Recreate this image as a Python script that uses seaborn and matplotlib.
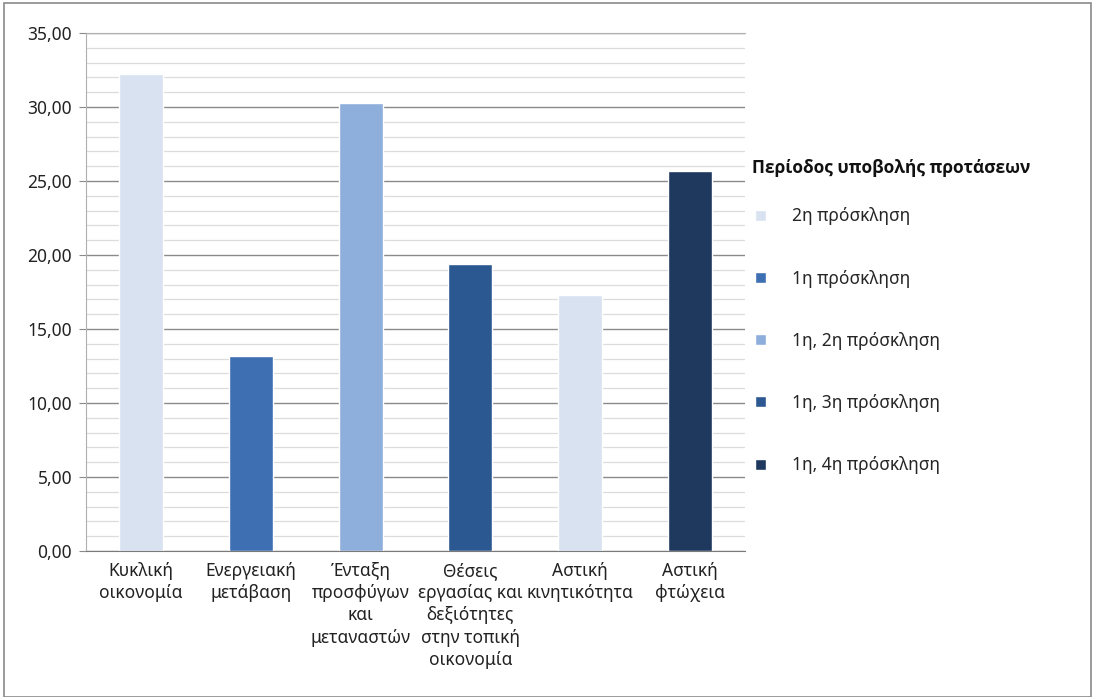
import matplotlib
matplotlib.use("Agg")
import matplotlib.pyplot as plt
from matplotlib.patches import Rectangle
from matplotlib.ticker import MultipleLocator, FuncFormatter
import pandas as pd
import seaborn as sns

# data
categories = ["Κυκλική\nοικονομία", "Ενεργειακή\nμετάβαση",
              "Ένταξη\nπροσφύγων\nκαι\nμεταναστών",
              "Θέσεις\nεργασίας και\nδεξιότητες\nστην τοπική\nοικονομία",
              "Αστική\nκινητικότητα", "Αστική\nφτώχεια"]
values = [32.2, 13.2, 30.3, 19.4, 17.3, 25.7]
periods = ["2η πρόσκληση", "1η πρόσκληση", "1η, 2η πρόσκληση",
           "1η, 3η πρόσκληση", "2η πρόσκληση", "1η, 4η πρόσκληση"]
legend_title = "Περίοδος υποβολής προτάσεων"
period_colors = {"2η πρόσκληση": "#d8e2f1",
                 "1η πρόσκληση": "#3d6fb2",
                 "1η, 2η πρόσκληση": "#8eaedb",
                 "1η, 3η πρόσκληση": "#2c5891",
                 "1η, 4η πρόσκληση": "#1f385e"}

df = pd.DataFrame({"cat": categories, "val": values, "period": periods})

sns.set_style("white")
plt.rcParams['font.family'] = ['Noto Sans', 'DejaVu Sans']

fig = plt.figure(figsize=(10.94, 6.97), dpi=100)
ax = fig.add_axes([0.0786, 0.2095, 0.6024, 0.7432])

sns.barplot(data=df, x="cat", y="val", hue="period", dodge=False,
            palette=period_colors, width=0.4, ax=ax, saturation=1)

ax.set_ylim(0, 35)
ax.set_xlim(-0.5, 5.5)
ax.yaxis.set_major_locator(MultipleLocator(5))
ax.yaxis.set_minor_locator(MultipleLocator(1))
ax.yaxis.set_major_formatter(FuncFormatter(lambda v, p: f"{v:.2f}".replace(".", ",")))
ax.grid(axis="y", which="major", color="#8a8a8a", linewidth=1)
ax.grid(axis="y", which="minor", color="#dcdcdc", linewidth=0.9)
ax.set_axisbelow(True)
ax.set_xlabel("")
ax.set_ylabel("")
ax.tick_params(axis="y", which="major", left=True, length=5, color="#8a8a8a",
               labelsize=12.5, labelcolor="#222222", pad=5)
ax.tick_params(axis="x", length=0, labelsize=12.5, labelcolor="#222222", pad=8)
for lab in ax.get_xticklabels():
    lab.set_linespacing(1.3)
    lab.set_multialignment("center")

for s in ["left", "top"]:
    ax.spines[s].set_color("#b0b0b0")
ax.spines["bottom"].set_color("#7a7a7a")
ax.spines["right"].set_visible(False)

# legend title as separate text so the gap to the entries can be set
fig.text(752 / 1094, 1 - 168 / 697, legend_title, fontsize=12.5,
         fontweight="bold", family=["Open Sans", "DejaVu Sans"],
         ha="left", va="center", color="#111111")

handles, labels = ax.get_legend_handles_labels()
leg = ax.legend(handles, labels, loc="upper left",
                bbox_to_anchor=(1.005, 0.677), frameon=False,
                fontsize=12.5, labelspacing=2.55,
                handlelength=0.6, handleheight=0.6, handletextpad=1.5,
                borderaxespad=0)

fig.patches.append(Rectangle((0.004, 0.0), 0.993, 0.995, transform=fig.transFigure,
                             fill=False, edgecolor="#8a8a8a", linewidth=1.2))

fig.savefig("out.png", dpi=100)
